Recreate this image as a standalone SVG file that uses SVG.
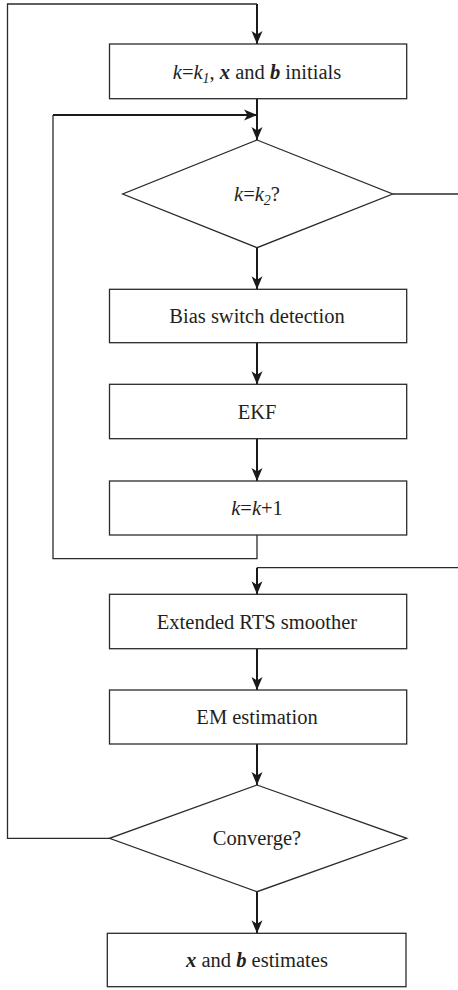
<svg xmlns="http://www.w3.org/2000/svg" width="458" height="990" viewBox="0 0 458 990">
<style>
.box{fill:#fff;stroke:#2b2b2b;stroke-width:1.3}
.t{font-family:'Liberation Serif','DejaVu Serif',serif;font-size:20.5px;fill:#231f20;text-anchor:middle}
.thin{fill:none;stroke:#2b2b2b;stroke-width:1.3}
.arr{fill:none;stroke:#1a1a1a;stroke-width:2;marker-end:url(#ah)}
.i{font-style:italic}
.bi{font-style:italic;font-weight:bold}
</style>
<defs>
<marker id="ah" markerUnits="userSpaceOnUse" markerWidth="14" markerHeight="12" refX="13" refY="6" orient="auto">
<path d="M0,0.5 L13,6 L0,11.5 L3.5,6 z" fill="#1a1a1a"/>
</marker>
</defs>
<g id="connectors">
<path class="thin" d="M109.5,838.3 H7.5 V4 H257"/>
<path class="arr" d="M257,4 V44"/>
<path class="arr" d="M257,99 V140"/>
<path class="thin" d="M257,535 V558.7 H53 V115"/>
<path class="arr" d="M53,115 H257"/>
<path class="thin" d="M392.7,194 H458"/>
<path class="thin" d="M458,567.7 H257"/>
<path class="arr" d="M257,567.7 V594.3"/>
<path class="arr" d="M257,247.7 V289.3"/>
<path class="arr" d="M257,342.7 V384.3"/>
<path class="arr" d="M257,438.7 V481"/>
<path class="arr" d="M257,648.7 V690"/>
<path class="arr" d="M257,744 V785"/>
<path class="arr" d="M257,891.7 V933.3"/>
</g>
<g id="init">
<rect class="box" x="109.5" y="44" width="297.2" height="54.7"/>
<text class="t" x="257" y="78.5"><tspan class="i">k</tspan>=<tspan class="i">k</tspan><tspan class="i" font-size="14" dy="4">1</tspan><tspan dy="-4">, </tspan><tspan class="bi">x</tspan> and <tspan class="bi">b</tspan> initials</text>
</g>
<g id="dec1">
<polygon class="box" points="257,140 392.7,194 257,247.7 122.7,194"/>
<text class="t" x="257" y="201"><tspan class="i">k</tspan>=<tspan class="i">k</tspan><tspan class="i" font-size="14" dy="4">2</tspan><tspan dy="-4">?</tspan></text>
</g>
<g id="bias">
<rect class="box" x="109.5" y="289.3" width="297.2" height="53.4"/>
<text class="t" x="257" y="323">Bias switch detection</text>
</g>
<g id="ekf">
<rect class="box" x="109.5" y="384.3" width="297.2" height="54.4"/>
<text class="t" x="257" y="418.5">EKF</text>
</g>
<g id="inc">
<rect class="box" x="109.5" y="481" width="297.2" height="54"/>
<text class="t" x="257" y="515"><tspan class="i">k</tspan>=<tspan class="i">k</tspan>+1</text>
</g>
<g id="rts">
<rect class="box" x="109.5" y="594.3" width="297.2" height="54.4"/>
<text class="t" x="257" y="628.5">Extended RTS smoother</text>
</g>
<g id="em">
<rect class="box" x="109.5" y="690" width="297.2" height="54"/>
<text class="t" x="257" y="724">EM estimation</text>
</g>
<g id="conv">
<polygon class="box" points="257,785 406.7,838.3 257,891.7 109.5,838.3"/>
<text class="t" x="257" y="845">Converge?</text>
</g>
<g id="final">
<rect class="box" x="107.3" y="933.3" width="298.7" height="53.4"/>
<text class="t" x="257" y="967"><tspan class="bi">x</tspan> and <tspan class="bi">b</tspan> estimates</text>
</g>
</svg>
